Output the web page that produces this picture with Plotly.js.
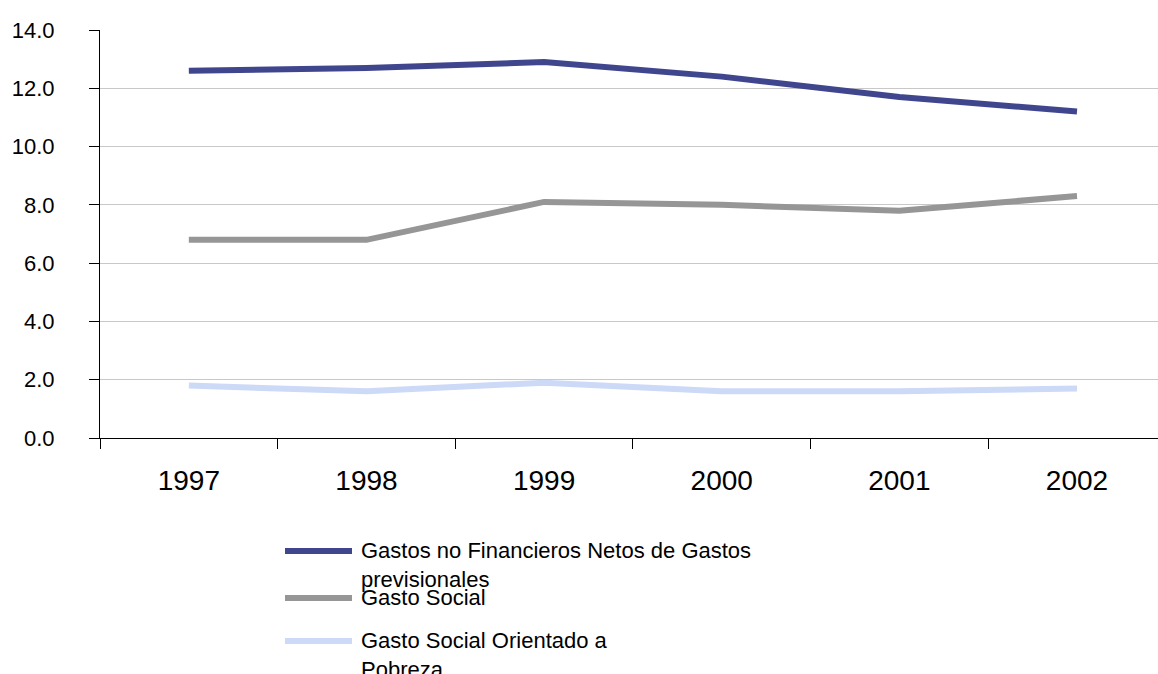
<!DOCTYPE html>
<html>
<head>
<meta charset="utf-8">
<script src="https://cdn.plot.ly/plotly-3.0.1.min.js"></script>
<style>html,body{margin:0;padding:0;background:#fff;}#chart{width:1158px;height:674px;}</style>
</head>
<body>
<div id="chart"></div>
<script>
var years = ['1997', '1998', '1999', '2000', '2001', '2002'];
var gastosNoFinancieros = [12.6, 12.7, 12.9, 12.4, 11.7, 11.2];
var gastoSocial = [6.8, 6.8, 8.1, 8.0, 7.8, 8.3];
var gastoPobreza = [1.8, 1.6, 1.9, 1.6, 1.6, 1.7];
var seriesNames = [
  'Gastos no Financieros Netos de Gastos<br>previsionales',
  'Gasto Social',
  'Gasto Social Orientado a<br>Pobreza'
];
var seriesColors = ['#3F468E', '#969696', '#CCD9F7'];
var yTicks = [0, 2, 4, 6, 8, 10, 12, 14];

var allValues = [gastosNoFinancieros, gastoSocial, gastoPobreza];
var traces = allValues.map(function (vals, i) {
  return {
    x: years, y: vals, type: 'scatter', mode: 'lines',
    name: seriesNames[i],
    line: {color: seriesColors[i], width: 6},
    showlegend: false
  };
});

// custom legend (paper coords)
var W = 1158, H = 674, mL = 100, mR = 0, mT = 30, mB = 236;
var pw = W - mL - mR, ph = H - mT - mB;
function px(x) { return (x - mL) / pw; }
function py(y) { return (H - mB - y) / ph; }
var legendY = [551, 598, 641];
var shapes = [], annotations = [];
seriesNames.forEach(function (n, i) {
  shapes.push({type: 'line', xref: 'paper', yref: 'paper',
    x0: px(285), x1: px(352), y0: py(legendY[i]), y1: py(legendY[i]),
    line: {color: seriesColors[i], width: 6}});
  annotations.push({xref: 'paper', yref: 'paper', x: px(359), y: py(legendY[i] - 15),
    xanchor: 'left', yanchor: 'top', align: 'left', showarrow: false, text: n,
    font: {family: 'Liberation Sans, Arial, sans-serif', size: 22, color: '#000'}});
});

var layout = {
  width: W, height: H,
  margin: {l: mL, r: mR, t: mT, b: mB},
  paper_bgcolor: '#fff', plot_bgcolor: '#fff',
  font: {family: 'Liberation Sans, Arial, sans-serif', color: '#000'},
  xaxis: {
    type: 'category', range: [-0.5, 5.456], tickson: 'boundaries',
    ticks: 'outside', ticklen: 10, tickcolor: '#000', tickwidth: 1,
    showline: true, linecolor: '#000', linewidth: 1, showgrid: false,
    tickfont: {size: 28, color: '#000'}, ticklabelstandoff: 17,
    zeroline: false
  },
  yaxis: {
    range: [0, 14], tickvals: yTicks, ticktext: yTicks.map(function (v) { return v.toFixed(1); }),
    ticks: 'outside', ticklen: 10, tickcolor: '#000', tickwidth: 1,
    showline: true, linecolor: '#000', linewidth: 1,
    showgrid: true, gridcolor: '#c8c8c8', gridwidth: 1, zeroline: false,
    tickfont: {size: 22, color: '#000'}, ticklabelstandoff: 30
  },
  shapes: shapes,
  annotations: annotations
};

Plotly.newPlot('chart', traces, layout, {displayModeBar: false, staticPlot: true});
</script>
</body>
</html>
